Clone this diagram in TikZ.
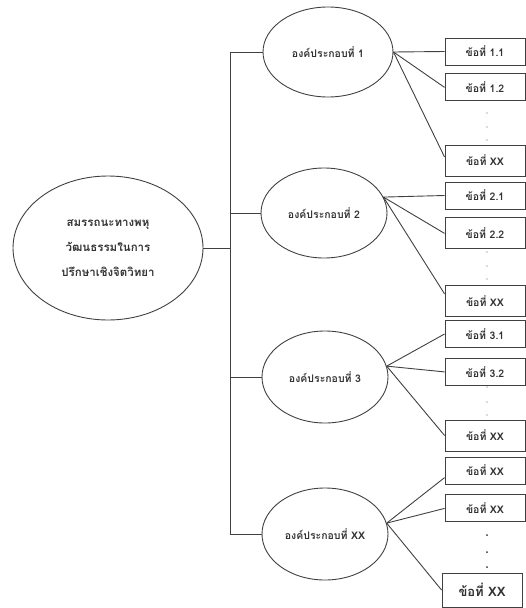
\documentclass[tikz,border=0pt]{standalone}
\usepackage{fontspec}
\newfontfamily\thaifont[Script=Thai]{Loma}
\usetikzlibrary{positioning,shapes.geometric}

\begin{document}
\begin{tikzpicture}[
  x=1pt, y=-1pt,
  every node/.style={font=\thaifont},
  link/.style={draw=black!75, line width=0.9pt},
  root/.style={ellipse, link, minimum width=190pt, minimum height=144pt,
    align=center, text=black!80, font=\thaifont\bfseries\fontsize{11.5}{25}\selectfont},
  part/.style={ellipse, link, minimum width=126pt, minimum height=90pt,
    text=black!80, font=\thaifont\bfseries\fontsize{10.5}{12}\selectfont},
  item/.style={rectangle, link, minimum width=80pt, minimum height=27pt,
    inner sep=0pt, text=black!80, font=\thaifont\bfseries\fontsize{10.5}{12}\selectfont},
  wide/.style={minimum height=31pt},
  ]
  \useasboundingbox (0,0) rectangle (526,608);
  \coordinate (spine) at (230,0);

  \node [root] (skill) at (108,248)
    {สมรรถนะทางพหุ\\วัฒนธรรมในการ\\ปรึกษาเชิงจิตวิทยา};

  \node [part, minimum width=130pt] (c1) at (328,52) {องค์ประกอบที่ 1};
  \node [part] (c2) at (324,213) {องค์ประกอบที่ 2};
  \node [part, minimum height=92pt] (c3) at (325,377) {องค์ประกอบที่ 3};
  \node [part, minimum height=92pt] (c4) at (325,534) {องค์ประกอบที่ XX};

  % items of part 1
  \node [item] (b11) at (485,51.5) {ข้อที่ 1.1};
  \node [item, below=8pt of b11] (b12) {ข้อที่ 1.2};
  \node [item, wide] (b1x) at (485,160.5) {ข้อที่ XX};
  % items of part 2
  \node [item] (b21) at (485,195.5) {ข้อที่ 2.1};
  \node [item, wide, below=8pt of b21] (b22) {ข้อที่ 2.2};
  \node [item, wide] (b2x) at (485,301) {ข้อที่ XX};
  % items of part 3
  \node [item] (b31) at (485,334) {ข้อที่ 3.1};
  \node [item, below=10pt of b31] (b32) {ข้อที่ 3.2};
  \node [item, wide] (b3x) at (485,435.5) {ข้อที่ XX};
  % items of part XX
  \node [item] (b41) at (485,470.5) {ข้อที่ XX};
  \node [item, below=10pt of b41] (b42) {ข้อที่ XX};
  \node [item, minimum height=34pt,
    font=\thaifont\bfseries\fontsize{13}{15}\selectfont] (b4x) at (482,590) {ข้อที่ XX};

  % trunk
  \draw [link] (c1.west) -| (c4.west -| spine) -- (c4.west);
  \draw [link] (skill.east) -- (skill.east -| spine);
  \draw [link] (c2.west) -- (c2.west -| spine);
  \draw [link] (c3.west) -- (c3.west -| spine);

  % branches
  \draw [link] (c1.east) -- (b11.west);
  \draw [link] (c1.east) -- (b12.west);
  \draw [link] (c1.east) -- (b1x.175);
  \draw [link] (c2.15) -- (b21.west);
  \draw [link] (c2.15) -- (b22.west);
  \draw [link] (c2.15) -- (b2x.170);
  \draw [link] (c3.10) -- (b31.west);
  \draw [link] (c3.10) -- (b32.west);
  \draw [link] (c3.10) -- (b3x.west);
  \draw [link] (c4.10) -- (b41.190);
  \draw [link] (c4.10) -- (b42.west);
  \draw [link] (c4.10) -- (b4x.west);

  % dots
  \foreach \y in {113,127,140,252,266,279,387,402,415}
    \fill [black!60] (487,\y) circle (0.7);
  \foreach \y in {535,552,567}
    \fill [black!80] (487,\y) circle (1);
\end{tikzpicture}
\end{document}
